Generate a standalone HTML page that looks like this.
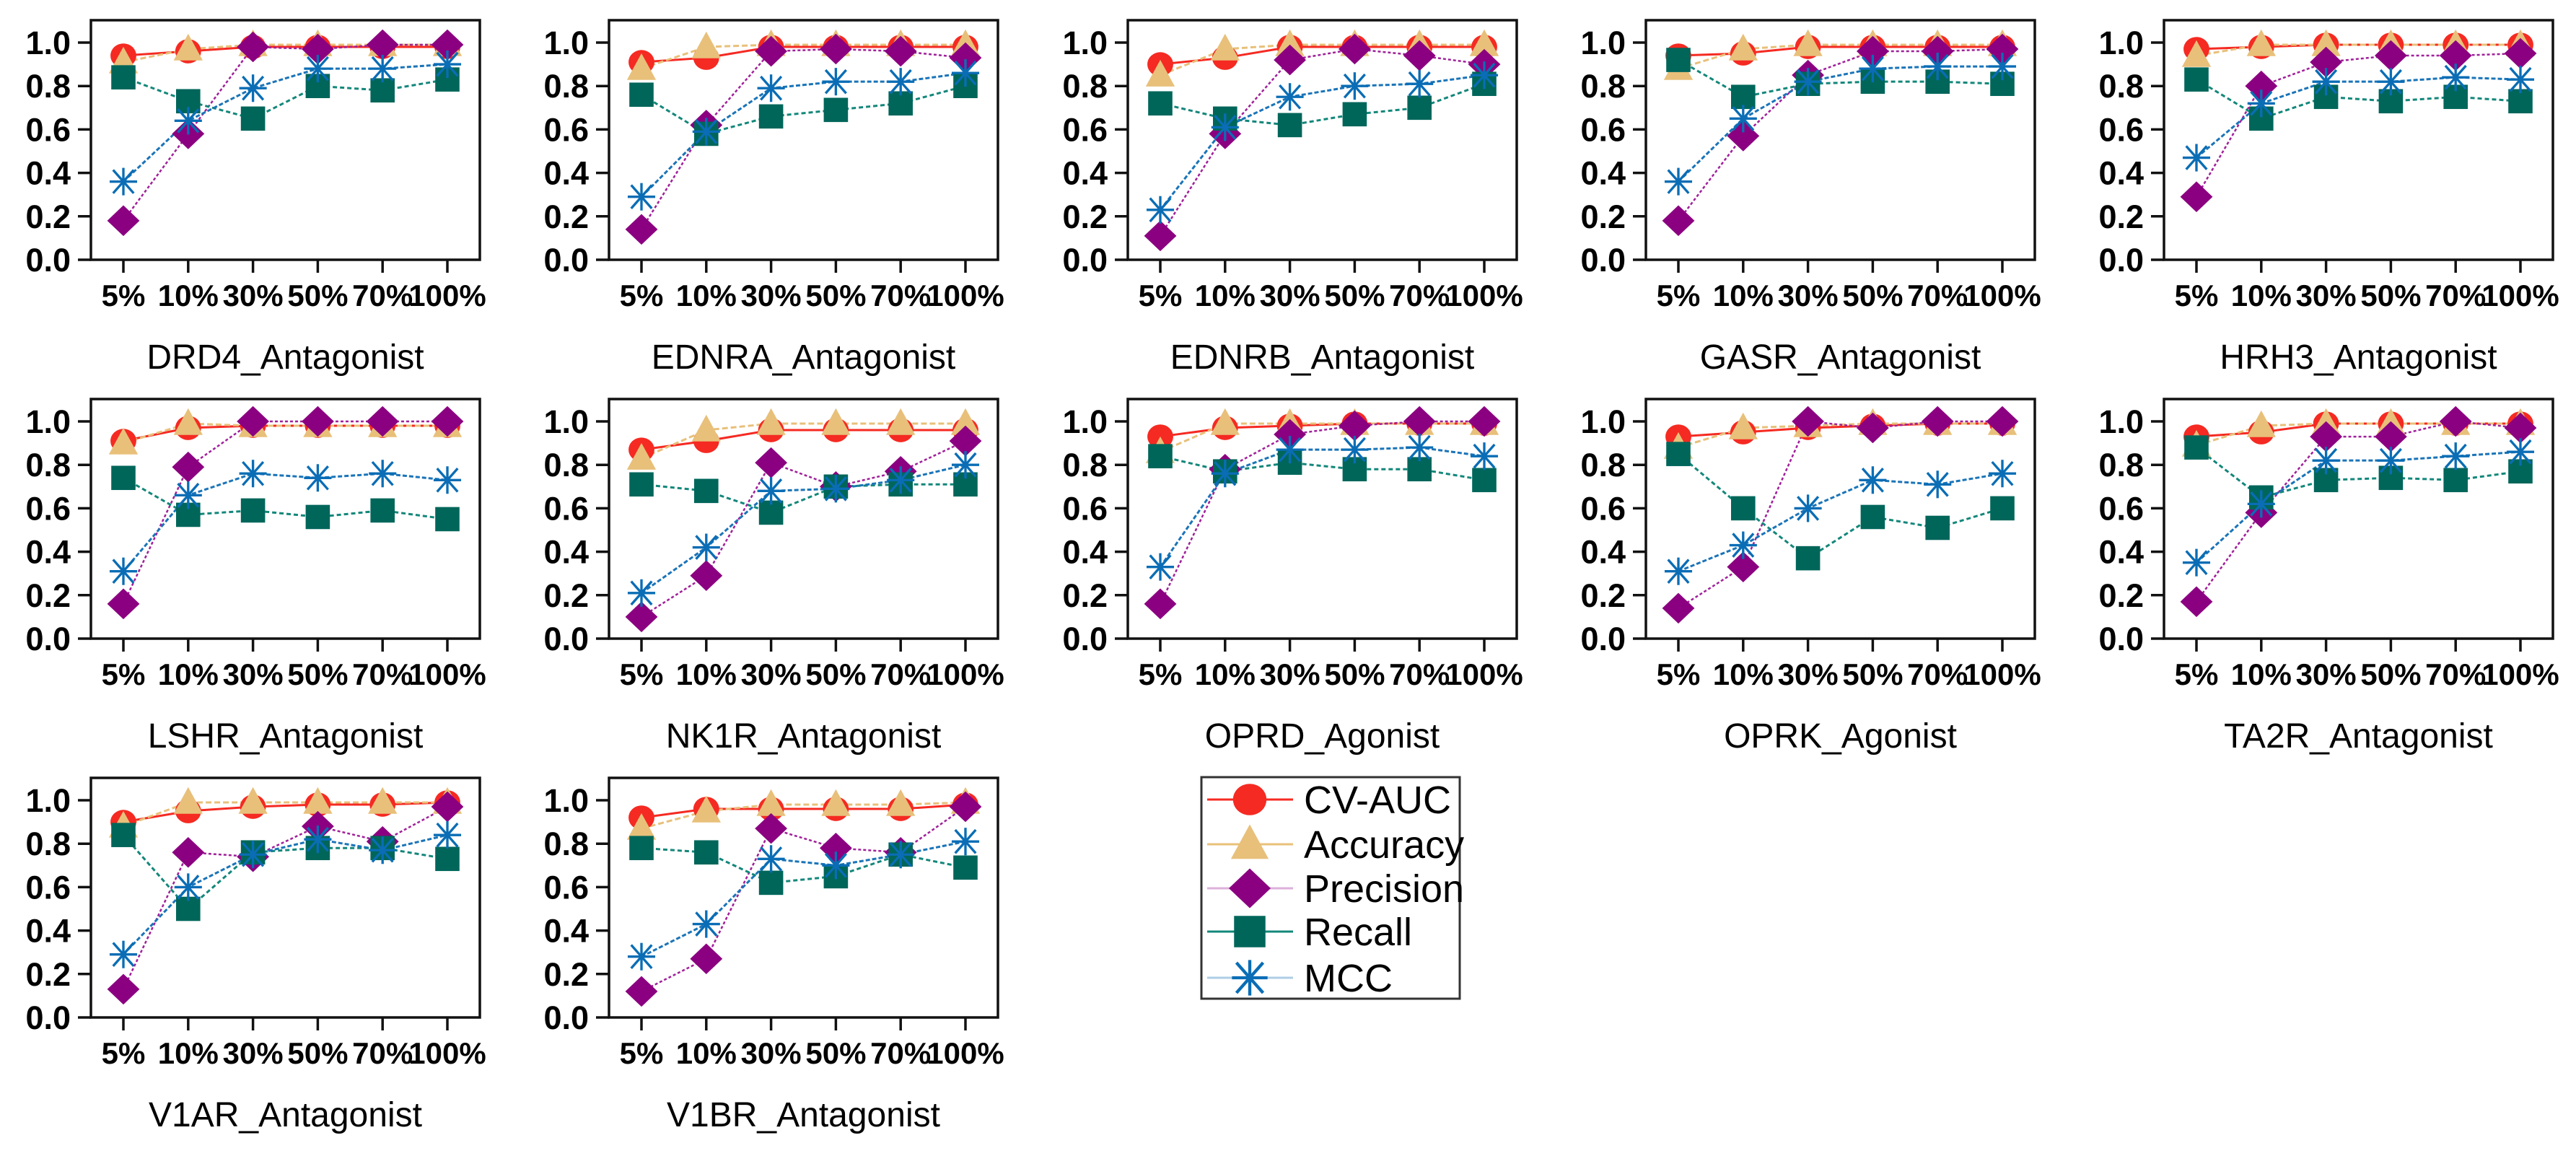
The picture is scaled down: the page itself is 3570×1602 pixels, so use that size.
<!DOCTYPE html>
<html>
<head>
<meta charset="utf-8">
<style>
html,body{margin:0;padding:0;background:#fff;}
svg{display:block;font-family:"Liberation Sans",Arial,sans-serif;}
</style>
</head>
<body>
<svg id="chart" width="3570" height="1602" viewBox="0 0 3570 1602" xmlns="http://www.w3.org/2000/svg">
  <rect width="3570" height="1602" fill="#fff"/>
  <g id="panels"></g>
  <g id="legend">
    <rect x="1665" y="1077" width="358" height="307" fill="#fff" stroke="#333" stroke-width="3"/>
  </g>
</svg>
<script>
const categories = ["5%","10%","30%","50%","70%","100%"];
const yTicks = [0,0.2,0.4,0.6,0.8,1.0];
const yTickLabels = ["0.0","0.2","0.4","0.6","0.8","1.0"];
const seriesNames = ["CV-AUC","Accuracy","Precision","Recall","MCC"];
const panelTitles = ["DRD4_Antagonist","EDNRA_Antagonist","EDNRB_Antagonist","GASR_Antagonist","HRH3_Antagonist",
  "LSHR_Antagonist","NK1R_Antagonist","OPRD_Agonist","OPRK_Agonist","TA2R_Antagonist",
  "V1AR_Antagonist","V1BR_Antagonist"];
const cvAuc = [
  [0.94,0.96,0.98,0.98,0.98,0.98],
  [0.91,0.93,0.98,0.98,0.98,0.98],
  [0.90,0.93,0.98,0.98,0.98,0.98],
  [0.94,0.95,0.98,0.98,0.98,0.98],
  [0.97,0.98,0.99,0.99,0.99,0.99],
  [0.91,0.97,0.98,0.98,0.98,0.98],
  [0.87,0.91,0.96,0.96,0.96,0.96],
  [0.93,0.97,0.98,0.99,0.99,0.99],
  [0.93,0.95,0.97,0.98,0.99,0.99],
  [0.93,0.95,0.99,0.99,0.99,0.99],
  [0.90,0.95,0.97,0.98,0.98,0.99],
  [0.92,0.96,0.96,0.96,0.96,0.98]
];
const accuracy = [
  [0.91,0.97,0.99,0.99,0.99,0.99],
  [0.88,0.98,0.99,0.99,0.99,0.99],
  [0.85,0.97,0.99,0.99,0.99,0.99],
  [0.88,0.97,0.99,0.99,0.99,0.99],
  [0.94,0.99,0.99,0.99,0.99,0.99],
  [0.90,0.99,0.98,0.98,0.98,0.98],
  [0.83,0.96,0.99,0.99,0.99,0.99],
  [0.86,0.99,0.99,0.99,0.99,0.99],
  [0.88,0.97,0.98,0.99,0.99,0.99],
  [0.89,0.98,0.99,0.99,0.99,0.99],
  [0.88,0.99,0.99,0.99,0.99,0.99],
  [0.87,0.95,0.98,0.98,0.98,0.99]
];
const precision = [
  [0.18,0.58,0.98,0.97,0.99,0.99],
  [0.14,0.62,0.96,0.97,0.96,0.93],
  [0.11,0.58,0.92,0.97,0.94,0.90],
  [0.18,0.57,0.85,0.96,0.96,0.97],
  [0.29,0.80,0.91,0.94,0.94,0.95],
  [0.16,0.79,1.00,1.00,1.00,1.00],
  [0.10,0.29,0.81,0.70,0.77,0.91],
  [0.16,0.78,0.94,0.98,1.00,1.00],
  [0.14,0.33,1.00,0.97,1.00,1.00],
  [0.17,0.58,0.93,0.93,1.00,0.97],
  [0.13,0.76,0.74,0.88,0.81,0.97],
  [0.12,0.27,0.87,0.78,0.76,0.97]
];
const recall = [
  [0.84,0.73,0.65,0.80,0.78,0.83],
  [0.76,0.58,0.66,0.69,0.72,0.80],
  [0.72,0.65,0.62,0.67,0.70,0.81],
  [0.92,0.75,0.81,0.82,0.82,0.81],
  [0.83,0.65,0.75,0.73,0.75,0.73],
  [0.74,0.57,0.59,0.56,0.59,0.55],
  [0.71,0.68,0.58,0.70,0.71,0.71],
  [0.84,0.77,0.81,0.78,0.78,0.73],
  [0.85,0.60,0.37,0.56,0.51,0.60],
  [0.88,0.65,0.73,0.74,0.73,0.77],
  [0.84,0.50,0.76,0.78,0.78,0.73],
  [0.78,0.76,0.62,0.65,0.75,0.69]
];
const mcc = [
  [0.36,0.64,0.79,0.88,0.88,0.90],
  [0.29,0.59,0.79,0.82,0.82,0.86],
  [0.23,0.61,0.75,0.80,0.81,0.85],
  [0.36,0.65,0.82,0.88,0.89,0.89],
  [0.47,0.72,0.82,0.82,0.84,0.83],
  [0.31,0.66,0.76,0.74,0.76,0.73],
  [0.21,0.42,0.68,0.69,0.73,0.80],
  [0.33,0.76,0.87,0.87,0.88,0.84],
  [0.31,0.43,0.60,0.73,0.71,0.76],
  [0.35,0.62,0.82,0.82,0.84,0.86],
  [0.29,0.60,0.75,0.82,0.77,0.84],
  [0.28,0.43,0.73,0.70,0.75,0.81]
];

const NS = "http://www.w3.org/2000/svg";
const colLeft = [126,844,1563,2281,2999];
const rowBase = [360,885,1410];
const PW = 539, PH = 332, UNIT = 301;
const styles = [
  {fill:"#f52a22", line:"#f52a22", dash:"", w:3, shape:"circle"},
  {fill:"#e8c07a", line:"#e8c07a", dash:"8 4", w:3, shape:"triangle"},
  {fill:"#8b0080", line:"#a0209a", dash:"4 3", w:2.5, shape:"diamond"},
  {fill:"#00665a", line:"#13877a", dash:"6 4", w:3, shape:"square"},
  {fill:"#0a6db5", line:"#1a74b8", dash:"6 3", w:3, shape:"star"}
];
const seriesData = [cvAuc, accuracy, precision, recall, mcc];

function el(tag, attrs, parent){
  const e = document.createElementNS(NS, tag);
  for (const k in attrs) e.setAttribute(k, attrs[k]);
  parent.appendChild(e);
  return e;
}
function marker(shape, cx, cy, s, st, parent){
  let m;
  if (shape==="circle") m = el("ellipse",{cx:cx,cy:cy,rx:16*s,ry:15*s,fill:st.fill},parent);
  else if (shape==="triangle") m = el("polygon",{points:`${cx},${cy-19*s} ${cx-18*s},${cy+14*s} ${cx+18*s},${cy+14*s}`,fill:st.fill},parent);
  else if (shape==="diamond") m = el("polygon",{points:`${cx},${cy-19*s} ${cx+20*s},${cy} ${cx},${cy+19*s} ${cx-20*s},${cy}`,fill:st.fill},parent);
  else if (shape==="square") m = el("rect",{x:cx-15*s,y:cy-15*s,width:30*s,height:30*s,fill:st.fill},parent);
  else {
    m = el("g",{stroke:st.fill,"stroke-width":3*s},parent);
    const r=17*s;
    el("line",{x1:cx-r,y1:cy,x2:cx+r,y2:cy},m);
    el("line",{x1:cx,y1:cy-r,x2:cx,y2:cy+r},m);
    el("line",{x1:cx-r*0.75,y1:cy-r*0.85,x2:cx+r*0.75,y2:cy+r*0.85},m);
    el("line",{x1:cx-r*0.75,y1:cy+r*0.85,x2:cx+r*0.75,y2:cy-r*0.85},m);
  }
  return m;
}

const panelsG = document.getElementById("panels");
panelTitles.forEach((title, p) => {
  const left = colLeft[p % 5];
  const base = rowBase[Math.floor(p / 5)];
  const top = base - PH;
  const xScale = i => left + 45 + i * 89.8;
  const yScale = v => base - v * UNIT;
  const g = el("g",{},panelsG);
  
  
  const frame = el("rect",{x:left,y:top,width:PW,height:PH,fill:"#fff",stroke:"#111","stroke-width":3.5},g);
  
  
  yTicks.forEach((t, i) => {
    const y = yScale(t);
    el("line",{x1:left-18,y1:y,x2:left,y2:y,stroke:"#111","stroke-width":3.5},g);
    const tx = el("text",{x:left-28,y:y+16,"text-anchor":"end","font-size":45,"font-weight":"bold",fill:"#000"},g);
    tx.textContent = yTickLabels[i];
    
    
  });
  categories.forEach((c, i) => {
    const x = xScale(i);
    el("line",{x1:x,y1:base,x2:x,y2:base+18,stroke:"#111","stroke-width":3.5},g);
    const tx = el("text",{x:x,y:base+64,"text-anchor":"middle","font-size":42,"font-weight":"bold",fill:"#000"},g);
    tx.textContent = c;
    
    
  });
  seriesData.forEach((arr, s) => {
    const st = styles[s];
    const pts = arr[p].map((v, i) => `${xScale(i)},${yScale(v)}`).join(" ");
    const pl = el("polyline",{points:pts,fill:"none",stroke:st.line,"stroke-width":st.w,"stroke-dasharray":st.dash},g);
    
    
  });
  seriesData.forEach((arr, s) => {
    const st = styles[s];
    arr[p].forEach((v, i) => {
      const m = marker(st.shape, xScale(i), yScale(v), 1.12, st, g);
      
      
    });
  });
  const tt = el("text",{x:left+PW/2,y:base+151,"text-anchor":"middle","font-size":48,fill:"#000"},g);
  tt.textContent = title;
  
  
});

const legendG = document.getElementById("legend");
const legY = [1108,1170,1231,1291,1355];
seriesNames.forEach((name, s) => {
  const st = styles[s];
  const g = el("g",{},legendG);
  
  
  el("line",{x1:1673,y1:legY[s],x2:1792,y2:legY[s],stroke:st.line,"stroke-width":3,opacity:s===2||s===4?0.35:1},g);
  marker(st.shape, 1732, legY[s], 1.45, st, g);
  const t = el("text",{x:1807,y:legY[s]+19,"font-size":54,fill:"#000"},g);
  t.textContent = name;
});
</script>
</body>
</html>
